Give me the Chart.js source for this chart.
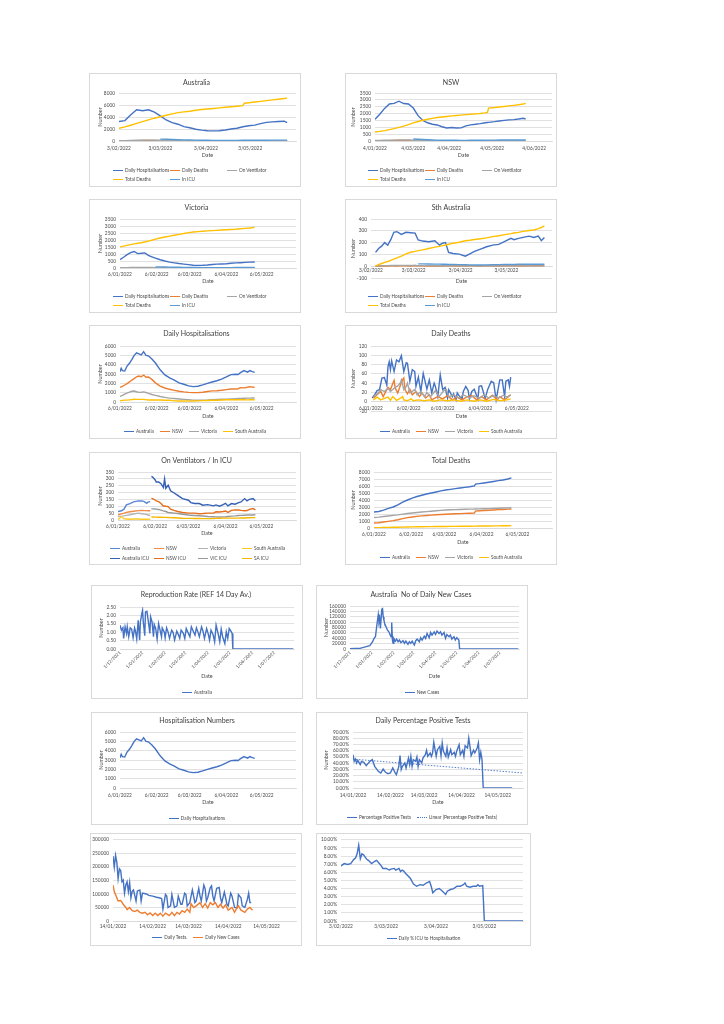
<!DOCTYPE html>
<html>
<head>
<meta charset="utf-8">
<script src="https://cdn.jsdelivr.net/npm/chart.js@4.4.1/dist/chart.umd.min.js"></script>
<style>
  body{margin:0;background:#fff;width:724px;height:1024px;position:relative;overflow:hidden;font-family:Lato,'Liberation Sans',sans-serif;}
  .panel{position:absolute;background:#fff;box-shadow:inset 0 0 0 1px #d9d9d9;}
  .panel canvas{position:absolute;left:0;top:0;}
  .legend{position:absolute;font-size:4.7px;color:#4a4a4a;white-space:nowrap;}
  .legend.flex{left:0;right:0;display:flex;justify-content:center;gap:6px;}
  .legend.grid{display:grid;}
  .sw{display:inline-block;width:10px;height:0;border-top:1.4px solid;vertical-align:middle;margin-right:2px;}
</style>
</head>
<body>
<script>
'use strict';

// x values are day numbers of 2022 (1 = 1 Jan), except the two Dec-Jul charts (0 = 1 Dec 2021)

// tick labels
const febTicks = [34, 62, 93, 123];
const febLabels = ['3/02/2022', '3/03/2022', '3/04/2022', '3/05/2022'];
const nswTicks = [4, 36, 66, 102, 137];
const nswLabels = ['4/01/2022', '4/03/2022', '4/04/2022', '4/05/2022', '4/06/2022'];
const janTicks = [6, 37, 65, 96, 126];
const janLabels = ['6/01/2022', '6/02/2022', '6/03/2022', '6/04/2022', '6/05/2022'];
const monthTicks = [0, 31, 62, 90, 121, 151, 182, 212];
const monthLabels = ['1/12/2021', '1/01/2022', '1/02/2022', '1/03/2022', '1/04/2022', '1/05/2022', '1/06/2022', '1/07/2022'];
const midTicks = [14, 45, 73, 104, 134];
const midLabels = ['14/01/2022', '14/02/2022', '14/03/2022', '14/04/2022', '14/05/2022'];

// Australia
const ausDays = [34,38,42,46,50,54,58,62,66,70,74,78,82,86,90,94,98,102,106,110,114,118,119,122,126,130,134,138,142,146,148];
const ausHosp = [3240,3400,4360,5200,5050,5200,4800,4190,3500,3070,2800,2400,2200,1950,1820,1720,1680,1700,1830,2010,2120,2380,2420,2550,2650,2900,3100,3190,3250,3300,3070];
const ausDeaths = [30,40,50,70,80,90,85,60,55,45,35,30,25,20,20,15,20,25,25,30,30,35,40,35,40,45,40,45,50,45,50];
const ausVent = [62,70,95,120,132,139,134,125,110,95,80,70,60,55,50,45,42,40,38,36,35,35,35,34,33,32,32,31,30,30,30];
const ausTotal = [2120,2350,2630,2930,3240,3520,3800,4050,4300,4530,4720,4850,4960,5120,5250,5340,5420,5520,5630,5710,5800,5900,6300,6380,6500,6600,6720,6850,6960,7090,7150];
const ausIcu = [null,null,null,null,null,null,null,318,290,260,220,190,160,140,125,115,110,105,100,105,110,115,115,120,125,130,135,140,145,150,141];

// NSW
const nswDays = [4,8,12,16,20,24,28,32,36,40,44,48,52,56,60,64,68,72,76,80,84,88,92,96,98,99,104,108,112,116,120,124,128,130];
const nswHosp = [1590,1950,2380,2700,2740,2900,2730,2700,2400,1850,1500,1330,1220,1170,1040,950,980,950,960,1100,1180,1220,1270,1330,1350,1360,1410,1460,1500,1540,1560,1600,1660,1590];
const nswDeaths = [8,15,20,30,35,40,45,35,25,20,15,15,12,12,10,10,8,8,8,8,10,10,10,10,10,10,10,10,10,10,10,12,12,12];
const nswVent = [38,45,52,60,64,68,69,68,60,50,42,35,30,28,25,22,20,20,20,20,20,20,22,22,22,22,22,22,22,22,22,22,22,22];
const nswTotal = [660,700,760,830,900,990,1090,1200,1320,1420,1510,1590,1650,1710,1750,1790,1830,1860,1890,1920,1950,1980,2010,2050,2080,2400,2440,2480,2520,2560,2600,2640,2700,2740];
const nswIcu = [null,null,null,null,null,null,null,null,150,130,110,90,75,65,57,52,50,50,48,48,50,55,60,60,62,62,65,70,70,72,74,74,80,74];

// Victoria
const vicDays = [6,9,12,15,18,21,24,27,30,33,36,40,44,48,52,56,60,64,68,72,76,80,84,88,92,96,100,104,108,112,116,120];
const vicHosp = [600,770,950,1100,1180,1030,1050,1080,900,800,700,590,500,420,370,320,280,240,200,190,195,215,250,275,290,305,340,365,380,400,420,430];
const vicDeaths = [10,15,20,25,20,25,30,25,20,18,15,15,12,10,10,8,8,8,8,8,8,8,8,10,10,10,10,10,10,10,10,12];
const vicVent = [25,27,30,35,40,45,48,45,40,35,30,25,22,20,18,15,14,13,12,12,12,12,12,12,12,12,12,12,12,12,12,12];
const vicTotal = [1510,1560,1620,1670,1720,1770,1800,1860,1920,1980,2060,2140,2210,2280,2340,2400,2460,2530,2570,2600,2630,2650,2670,2690,2710,2730,2750,2770,2800,2830,2860,2900];
const vicIcu = [null,null,null,null,null,null,null,null,null,null,82,78,70,60,55,50,43,38,34,31,28,26,24,22,24,26,30,33,34,36,37,38];

// South Australia
const saDays = [37,39,41,43,45,47,49,51,54,57,60,63,65,68,72,76,79,81,83,85,88,92,96,99,102,106,110,114,118,122,126,128,131,134,138,141,144,146,148];
const saHosp = [117,150,170,200,178,225,287,293,270,287,284,280,222,213,207,215,178,195,200,117,108,102,85,105,125,145,165,179,185,210,236,225,236,244,255,244,255,216,244];
const saDeaths = [0,2,1,3,2,4,3,2,5,3,2,6,3,4,2,3,1,2,3,5,2,3,2,4,3,2,5,3,2,4,3,5,2,4,3,5,4,3,6];
const saVent = [3,4,4,5,5,6,6,7,7,7,6,6,5,5,5,4,4,4,4,4,3,3,3,3,3,3,3,3,3,3,3,3,3,3,3,3,3,3,3];
const saTotal = [3,13,23,32,40,50,60,70,86,104,118,126,132,138,150,162,168,174,180,186,195,203,216,220,226,233,240,251,258,268,276,281,287,295,302,307,319,328,341];
const saIcu = [null,null,null,null,null,null,null,null,null,null,null,null,20,20,19,18,18,17,16,15,14,13,12,11,10,10,11,12,13,14,14,15,16,16,17,16,17,18,17];

// Daily hospitalisations by state
const hospDays = [6,7,8,10,12,14,16,18,20,22,24,26,28,30,33,36,40,44,48,52,56,60,64,68,72,76,80,84,88,92,96,100,104,106,108,111,114,116,118,120];
const hospAus = [3250,3610,3360,3320,3850,4150,4550,5000,5260,5150,5040,5390,5000,4950,4600,4180,3450,2900,2580,2350,2050,1900,1730,1650,1690,1830,2000,2140,2280,2460,2680,2930,2980,2950,3140,3360,3200,3360,3250,3180];
const hospNsw = [1570,1620,1680,1820,1970,2150,2350,2500,2700,2780,2710,2890,2660,2680,2420,2050,1700,1500,1360,1250,1150,1080,1030,1000,1000,1050,1130,1190,1210,1260,1330,1390,1390,1420,1540,1510,1580,1640,1600,1570];
const hospVic = [600,650,700,850,950,1050,1150,1180,1100,1030,1050,1080,1020,920,800,710,590,500,420,370,320,280,240,200,190,195,215,250,275,290,305,340,360,370,380,395,410,420,425,430];
const hospSa = [120,150,170,200,200,230,260,290,280,285,284,280,260,222,213,207,215,190,200,117,108,100,90,105,125,145,165,180,185,210,236,236,244,255,244,255,230,244,240,245];

// Daily deaths by state
const ddAusDays = [7,9,11,13,15,17,19,20,21,22,23,25,27,29,31,33,35,36,38,40,42,43,45,47,49,52,54,56,58,59,61,63,65,67,69,70,73,74,76,77,79,81,82,84,86,87,89,91,94,95,97,100,102,105,107,109,112,114,116,117,119,120,121];
const ddAus = [8,15,24,26,51,52,36,76,86,69,88,65,90,86,99,65,84,83,44,69,65,33,53,22,61,27,47,19,40,33,11,58,26,31,8,26,11,17,4,19,11,7,22,33,24,6,22,27,6,33,34,7,26,44,41,4,47,47,11,44,47,33,53];
const ddNswDays = [8,11,14,16,20,22,24,25,26,28,30,32,33,34,36,38,40,43,46,48,51,54,56,61,65,69,73,77,81,85,89,93,97,101,106,110,112,116,121];
const ddNsw = [8,15,22,11,31,26,40,46,29,19,34,47,51,26,17,27,15,22,11,19,8,15,4,11,6,13,4,10,4,11,13,4,11,4,14,4,11,4,15];
const ddVicDays = [8,12,14,17,20,22,25,28,30,31,33,35,36,38,42,44,47,50,52,55,59,62,66,68,70,74,78,82,87,91,95,99,103,107,111,115,118,121];
const ddVic = [11,19,26,22,29,22,29,34,40,47,26,33,40,19,26,15,22,11,20,11,24,11,24,27,11,15,8,15,8,13,7,15,8,13,8,14,10,15];
const ddSaDays = [8,11,14,17,20,22,24,27,30,32,33,36,39,41,45,50,54,58,63,69,74,80,85,91,96,101,107,112,118,121];
const ddSa = [4,10,4,7,10,3,11,3,7,11,4,2,6,2,4,2,4,1,4,2,4,1,4,1,4,1,5,2,4,6];

// On ventilators (Jan) / in ICU (Feb on)
const ventDays = [6,9,11,13,16,19,23,26,28,30,31,33];
const ventAus = [62,67,79,110,120,132,139,139,134,122,130,134];
const ventNsw = [38,45,50,56,60,64,68,69,68,68,67,67];
const ventVic = [26,28,30,34,38,44,50,46,43,40,36,33];
const ventSa = [3,25,8,7,6,7,7,6,6,6,6,6];
const icuDays = [34,35,37,38,40,42,44,45,46,48,50,53,56,60,65,67,70,74,77,81,86,88,91,94,96,98,101,104,107,109,112,114,116,119,121];
const icuAus = [318,313,294,277,277,265,237,299,230,254,213,197,179,156,144,127,120,120,108,112,103,110,101,112,122,103,120,115,127,132,156,139,151,156,141];
const icuNsw = [158,155,146,140,134,120,100,103,100,98,79,70,62,55,50,50,50,46,47,50,50,60,58,62,66,55,70,74,73,70,68,69,78,84,74];
const icuVic = [82,81,80,79,77,72,66,64,62,55,53,50,47,42,36,35,33,31,29,26,24,23,22,23,24,26,28,30,33,34,35,36,36,37,38];
const icuSa = [22,22,21,21,20,20,19,19,19,18,17,16,15,13,12,12,11,11,10,10,11,12,13,14,14,14,14,14,14,15,15,16,16,17,17];

// Total deaths by state
const totDays = [6,10,14,18,22,26,30,34,38,42,46,50,54,58,62,66,70,74,78,82,86,90,91,94,98,102,106,110,114,118,121];
const totAus = [2290,2360,2560,2800,3000,3310,3680,4000,4280,4500,4680,4860,5000,5150,5300,5430,5520,5620,5710,5800,5890,6020,6280,6340,6430,6530,6640,6760,6860,7000,7150];
const totNsw = [710,760,850,950,1050,1180,1330,1480,1580,1660,1730,1790,1840,1890,1930,1970,2000,2030,2060,2090,2110,2140,2420,2460,2500,2540,2580,2620,2650,2690,2720];
const totVic = [1510,1560,1640,1720,1800,1880,1980,2080,2150,2220,2280,2340,2400,2460,2520,2570,2600,2630,2650,2670,2690,2710,2720,2730,2750,2770,2800,2830,2860,2880,2900];
const totSa = [40,50,65,85,100,115,130,145,160,170,180,190,200,208,215,222,230,238,245,252,260,268,270,276,284,292,300,310,318,330,340];

// Reproduction rate (0 = 1 Dec 2021)
const rrDays = [0,2,4,5,7,9,10,12,14,16,18,20,21,23,25,27,28,30,31,32,34,35,37,39,41,42,44,46,47,49,51,53,55,57,58,61,62,64,66,68,71,73,75,78,80,82,84,87,89,91,93,96,98,100,103,105,107,109,112,114,116,119,121,123,125,128,130,132,135,137,139,141,144,146,148,150,153,154,155,238];
const rrVals = [1.42,1.12,1.26,0.63,1.32,0.93,1.32,0.73,1.26,1.18,0.67,1.26,1.12,0.59,1.71,0.53,1.61,2.10,2.30,1.61,0.79,2.20,2.24,1.61,0.93,1.91,1.61,0.73,1.46,1.22,0.59,1.52,1.12,0.73,1.26,0.98,0.67,1.26,1.02,0.63,1.12,0.98,0.53,1.06,0.87,0.63,1.12,0.93,0.63,1.22,1.02,0.73,1.32,1.12,0.83,1.26,1.02,0.73,1.32,1.06,0.63,1.22,0.93,0.53,1.12,0.83,0.43,1.42,0.87,0.43,1.18,0.73,0.33,1.02,0.63,1.22,1.02,0.93,0,0];

// Australia daily new cases (0 = 1 Dec 2021)
const ncDays = [0,7,14,23,28,32,34,36,38,40,41,42,43,45,46,47,48,49,51,53,55,57,58,59,60,61,62,64,66,68,70,72,75,77,79,82,84,86,88,91,93,95,98,100,102,105,107,109,112,114,116,119,121,123,126,128,130,133,135,137,140,142,144,147,149,151,154,155,238];
const ncVals = [1500,2000,2500,8600,12300,27000,39400,45500,88600,128000,101000,113000,76300,148000,150000,119000,107000,94800,82500,70000,64000,51700,45500,98500,33200,20900,39400,29500,36900,27000,33200,23400,30800,20900,29500,17200,27000,20900,29500,14800,30800,36900,27000,41900,33200,48000,39400,57900,41900,61600,51700,64000,54100,66500,57900,64000,51700,61600,39400,54100,45500,51700,36900,45500,33200,41900,33200,0,0];

// Daily percentage positive tests (%)
const ppDays = [14,15,16,17,18,20,21,23,25,28,30,32,35,37,39,41,43,45,47,49,50,52,53,54,55,57,58,60,61,62,63,64,66,67,68,69,71,72,74,75,76,78,79,80,81,83,84,86,87,88,89,91,92,93,95,96,98,99,100,102,103,105,106,107,109,110,111,112,114,115,117,118,119,120,121,122,146];
const ppVals = [53.6,42.9,46.6,40.2,44.5,37.5,42.9,41.3,35.9,42.9,45.5,34.8,26.8,24.1,30.5,25.2,23.0,24.1,32.2,24.1,21.4,34.8,52.0,29.5,34.8,40.2,32.2,48.2,37.5,50.9,34.8,45.5,42.9,49.8,34.8,45.5,40.2,48.2,53.6,60.6,50.9,56.3,50.9,56.3,73.4,50.9,61.6,67.0,52.0,72.4,59.0,50.9,64.3,49.8,61.6,53.6,57.4,50.9,59.0,69.7,53.6,60.6,50.9,68.0,64.3,80.4,67.0,52.0,60.6,56.3,64.3,72.4,45.5,57.4,45.5,0,0];
const ppTrendDays = [14, 155];
const ppTrendVals = [46.4, 24.1];

// Daily tests and daily new cases
const testDays = [14,15,16,17,18,19,20,21,22,23,24,25,26,27,28,29,30,32,33,34,35,36,37,40,42,45,48,50,52,53,55,56,57,59,60,61,62,64,65,67,68,70,71,72,74,76,77,78,79,81,82,83,85,86,87,88,90,91,92,93,95,97,98,99,101,102,103,104,106,107,109,111,112,114,115,117,119,120,121,122];
const testVals = [240000,199000,243000,217000,157000,193000,187000,145000,151000,103000,133000,145000,109000,142000,86000,110000,115000,74000,110000,113000,114000,74000,103000,100000,95000,92000,88000,86000,83000,44000,98000,92000,50000,56000,98000,74000,50000,56000,92000,62000,62000,103000,98000,56000,68000,115000,92000,68000,74000,121000,92000,74000,133000,119000,74000,86000,124000,130000,92000,74000,121000,124000,86000,68000,107000,86000,62000,56000,103000,92000,50000,48000,98000,86000,56000,50000,80000,103000,68000,68000];
const caseDays = [14,15,17,18,20,22,24,25,27,29,31,33,35,37,39,41,43,45,47,49,51,53,55,58,60,62,64,66,68,70,72,74,75,77,79,82,84,86,88,90,92,94,96,98,100,102,104,107,109,111,112,114,117,119,121,123];
const caseVals = [133000,109000,86000,74000,76000,62000,50000,42000,50000,38000,35000,40000,32000,29000,32000,23000,30000,20000,29000,20000,29000,18000,29000,20000,32000,20000,32000,26000,38000,32000,44000,32000,64000,50000,56000,68000,50000,64000,48000,68000,60000,68000,50000,62000,48000,60000,40000,50000,32000,50000,56000,40000,32000,44000,50000,40000];

// Daily % ICU to hospitalisation
const icuPctDays = [34,36,38,40,42,43,44,45,46,47,48,50,51,53,55,56,57,59,60,62,64,65,67,68,70,71,72,73,74,77,79,81,83,85,87,89,90,91,93,95,97,99,100,102,104,106,108,110,111,112,114,116,118,119,120,122,123,147];
const icuPctVals = [6.8,7.08,6.96,7.08,7.6,7.76,8.28,9.36,7.68,8.28,8.16,7.6,7.48,7.08,7.36,7.48,7.28,6.8,6.48,6.48,6.28,6.4,6.48,6.28,6.48,6.08,6.28,6.16,5.88,5.28,4.56,4.28,4.48,4.4,4.68,4.88,4.28,3.48,3.88,4.0,3.68,3.28,3.68,3.88,4.0,4.28,4.28,4.48,4.68,4.28,4.16,4.28,4.28,4.48,4.28,4.36,0,0];

const BLUE = '#4472C4', ORANGE = '#ED7D31', GREY = '#A5A5A5', YELLOW = '#FFC000', LBLUE = '#5B9BD5';
const GRID = '#d9d9d9', TXT = '#4a4a4a';

Chart.defaults.font.family = "Lato, 'Liberation Sans', sans-serif";
Chart.defaults.color = TXT;
Chart.defaults.animation = false;

function series(label, days, vals, color, extra){
  return Object.assign({
    label: label,
    data: days.map((d, i) => ({x: d, y: vals[i]})),
    borderColor: color,
    backgroundColor: color,
    borderWidth: 1.4,
    pointRadius: 0,
    tension: 0
  }, extra || {});
}

function stateSeries(days, hosp, deaths, vent, total, icu){
  return [
    series('Daily Hospitalisations', days, hosp, BLUE),
    series('Daily Deaths', days, deaths, ORANGE),
    series('On Ventilator', days, vent, GREY),
    series('Total Deaths', days, total, YELLOW),
    series('In ICU', days, icu, LBLUE)
  ];
}

function addLegend(el, chart, o){
  const lg = o.legend;
  const rowH = lg.rowH || 9;
  const d = document.createElement('div');
  d.className = 'legend ' + (lg.cols ? 'grid' : 'flex');
  d.style.top = (lg.y - o.box[1] - rowH / 2) + 'px';
  d.style.lineHeight = rowH + 'px';
  if (lg.cols){
    d.style.left = (lg.x - o.box[0]) + 'px';
    d.style.gridTemplateColumns = 'repeat(' + lg.cols + ',' + lg.colW + 'px)';
    d.style.gridAutoRows = rowH + 'px';
  }
  chart.data.datasets.forEach((ds) => {
    const it = document.createElement('span');
    const sw = document.createElement('span');
    sw.className = 'sw';
    sw.style.borderTopColor = ds.borderColor;
    if (ds.borderDash) sw.style.borderTopStyle = 'dotted';
    it.appendChild(sw);
    it.appendChild(document.createTextNode(ds.label));
    d.appendChild(it);
  });
  el.appendChild(d);
}

function makeChart(o){
  const [bx, by, bw, bh] = o.box;
  const l = o.plot[0] - bx, t = o.plot[1] - by, r = o.plot[2] - bx, b = o.plot[3] - by;

  const el = document.createElement('div');
  el.className = 'panel';
  el.style.left = bx + 'px';
  el.style.top = by + 'px';
  el.style.width = bw + 'px';
  el.style.height = bh + 'px';
  const cv = document.createElement('canvas');
  cv.width = bw;
  cv.height = bh;
  el.appendChild(cv);
  document.body.appendChild(el);

  const titleLH = 7 * 1.2;
  const padL = o.numberX ? o.numberX - bx - 3 : 2;
  const xH = o.dateY ? o.dateY - o.plot[3] + 3 : 12;
  const tc = o.title ? o.titleY - by : 0;

  o.datasets.forEach((ds, i) => { ds.order = -i; });

  const scales = {
    x: {
      type: 'linear',
      min: o.xMin,
      max: o.xMax,
      position: o.atZero ? {y: 0} : 'bottom',
      afterBuildTicks: (s) => { s.ticks = o.xTicks.map((v) => ({value: v})); },
      afterFit: (s) => { if (!o.atZero) s.height = xH; },
      ticks: {
        autoSkip: false,
        maxRotation: o.rot || 0,
        minRotation: o.rot || 0,
        padding: o.xPad,
        font: {size: o.rot ? 4.5 : 4.8},
        callback: (v, i) => o.xLabels[i]
      },
      grid: {display: false, drawTicks: false},
      border: {display: true, color: GRID, width: 0.8},
      title: {display: !!o.dateY && !o.atZero, text: 'Date', font: {size: 5.4}, padding: 0}
    },
    y: {
      min: o.yMin,
      max: o.yMax,
      afterFit: (s) => { s.width = l - padL; },
      ticks: {
        stepSize: o.yStep,
        autoSkip: false,
        padding: 4,
        font: {size: 4.8},
        callback: o.yFmt || ((v) => v)
      },
      grid: {color: GRID, lineWidth: 0.8, drawTicks: false},
      border: {display: false},
      title: {display: !!o.numberX, text: 'Number', font: {size: 5.4}, padding: 0}
    }
  };
  if (o.atZero){
    scales.x2 = {
      type: 'linear', position: 'bottom', min: 0, max: 1,
      afterFit: (s) => { s.height = xH; },
      ticks: {display: false},
      grid: {display: false, drawTicks: false},
      border: {display: false},
      title: {display: true, text: 'Date', font: {size: 5.4}, padding: 0}
    };
  }

  const chart = new Chart(cv, {
    type: 'line',
    data: {datasets: o.datasets},
    options: {
      responsive: false,
      animation: false,
      events: [],
      layout: {padding: {left: padL, right: bw - r, top: o.title ? 0 : t, bottom: bh - b - xH}},
      plugins: {
        legend: {display: false},
        tooltip: {enabled: false},
        title: o.title ? {
          display: true,
          text: o.title,
          color: '#404040',
          font: {size: 7, weight: 'normal'},
          padding: {top: tc - titleLH / 2, bottom: t - tc - titleLH / 2}
        } : {display: false}
      },
      scales: scales
    }
  });
  addLegend(el, chart, o);
  return chart;
}

const pct = (v) => v.toFixed(2) + '%';

const charts = [
  {box: [89, 73, 212, 114], plot: [119, 93, 296, 141], title: 'Australia', titleY: 83, numberX: 100, dateY: 156, xPad: 4.2,
   xMin: 34, xMax: 154, xTicks: febTicks, xLabels: febLabels, yMin: 0, yMax: 8000, yStep: 2000,
   datasets: stateSeries(ausDays, ausHosp, ausDeaths, ausVent, ausTotal, ausIcu),
   legend: {x: 113, y: 170, cols: 3, colW: 57}},
  {box: [345, 73, 212, 114], plot: [375, 93, 552, 141], title: 'NSW', titleY: 83, numberX: 353, dateY: 156, xPad: 4.2,
   xMin: 4, xMax: 152, xTicks: nswTicks, xLabels: nswLabels, yMin: 0, yMax: 3500, yStep: 500,
   datasets: stateSeries(nswDays, nswHosp, nswDeaths, nswVent, nswTotal, nswIcu),
   legend: {x: 368, y: 170, cols: 3, colW: 57}},
  {box: [89, 199, 212, 114], plot: [120, 219, 296, 268], title: 'Victoria', titleY: 208, numberX: 100, dateY: 282, xPad: 3.2,
   xMin: 6, xMax: 155, xTicks: janTicks, xLabels: janLabels, yMin: 0, yMax: 3500, yStep: 500,
   datasets: stateSeries(vicDays, vicHosp, vicDeaths, vicVent, vicTotal, vicIcu),
   legend: {x: 113, y: 296, cols: 3, colW: 57}},
  {box: [345, 199, 212, 114], plot: [371, 219, 552, 278], title: 'Sth Australia', titleY: 208, numberX: 353, dateY: 282, xPad: 1.2, atZero: true,
   xMin: 34, xMax: 153, xTicks: febTicks, xLabels: febLabels, yMin: -100, yMax: 400, yStep: 100,
   datasets: stateSeries(saDays, saHosp, saDeaths, saVent, saTotal, saIcu),
   legend: {x: 368, y: 296, cols: 3, colW: 57}},
  {box: [89, 325, 212, 114], plot: [120, 346, 296, 402], title: 'Daily Hospitalisations', titleY: 334, numberX: 100, dateY: 417, xPad: 3.2,
   xMin: 6, xMax: 155, xTicks: janTicks, xLabels: janLabels, yMin: 0, yMax: 6000, yStep: 1000,
   datasets: [
     series('Australia', hospDays, hospAus, BLUE),
     series('NSW', hospDays, hospNsw, ORANGE),
     series('Victoria', hospDays, hospVic, GREY),
     series('South Australia', hospDays, hospSa, YELLOW)
   ],
   legend: {y: 431}},
  {box: [345, 325, 212, 114], plot: [371, 346, 552, 411], title: 'Daily Deaths', titleY: 334, numberX: 353, dateY: 417, xPad: 4.2, atZero: true,
   xMin: 6, xMax: 155, xTicks: janTicks, xLabels: janLabels, yMin: -20, yMax: 120, yStep: 20,
   datasets: [
     series('Australia', ddAusDays, ddAus, BLUE),
     series('NSW', ddNswDays, ddNsw, ORANGE),
     series('Victoria', ddVicDays, ddVic, GREY),
     series('South Australia', ddSaDays, ddSa, YELLOW)
   ],
   legend: {y: 431}},
  {box: [89, 452, 212, 113], plot: [118, 472, 296, 520], title: 'On Ventilators / In ICU', titleY: 461, numberX: 100, dateY: 534, xPad: 3.2,
   xMin: 6, xMax: 155, xTicks: janTicks, xLabels: janLabels, yMin: 0, yMax: 350, yStep: 50,
   datasets: [
     series('Australia', ventDays, ventAus, '#5B86D6'),
     series('NSW', ventDays, ventNsw, '#F08B48'),
     series('Victoria', ventDays, ventVic, '#B4B4B4'),
     series('South Australia', ventDays, ventSa, '#FFC824'),
     series('Australia ICU', icuDays, icuAus, '#3461B5'),
     series('NSW ICU', icuDays, icuNsw, '#E56E1E'),
     series('VIC ICU', icuDays, icuVic, '#999999'),
     series('SA ICU', icuDays, icuSa, '#F5B800')
   ],
   legend: {x: 110, y: 548, cols: 4, colW: 44, rowH: 10}},
  {box: [345, 452, 212, 113], plot: [374, 472, 552, 528], title: 'Total Deaths', titleY: 461, numberX: 353, dateY: 543, xPad: 3.2,
   xMin: 6, xMax: 155, xTicks: janTicks, xLabels: janLabels, yMin: 0, yMax: 8000, yStep: 1000,
   datasets: [
     series('Australia', totDays, totAus, BLUE),
     series('NSW', totDays, totNsw, ORANGE),
     series('Victoria', totDays, totVic, GREY),
     series('South Australia', totDays, totSa, YELLOW)
   ],
   legend: {y: 557}},
  {box: [91, 585, 212, 114], plot: [120, 607, 294, 649], title: 'Reproduction Rate (REF 14 Day Av.)', titleY: 595, numberX: 101, dateY: 677, xPad: 1, rot: 45,
   xMin: 0, xMax: 239, xTicks: monthTicks, xLabels: monthLabels, yMin: 0, yMax: 2.5, yStep: 0.5, yFmt: (v) => v.toFixed(2),
   datasets: [series('Australia', rrDays, rrVals, BLUE)],
   legend: {y: 692}},
  {box: [316, 585, 212, 114], plot: [350, 606, 519, 649], title: 'Australia  No of Daily New Cases', titleY: 595, numberX: 326, dateY: 677, xPad: 1, rot: 45,
   xMin: 0, xMax: 239, xTicks: monthTicks, xLabels: monthLabels, yMin: 0, yMax: 160000, yStep: 20000,
   datasets: [series('New Cases', ncDays, ncVals, BLUE)],
   legend: {y: 692}},
  {box: [91, 712, 212, 113], plot: [120, 732, 296, 788], title: 'Hospitalisation Numbers', titleY: 721, numberX: 101, dateY: 803, xPad: 4.2,
   xMin: 6, xMax: 155, xTicks: janTicks, xLabels: janLabels, yMin: 0, yMax: 6000, yStep: 1000,
   datasets: [series('Daily Hospitalisations', hospDays, hospAus, BLUE)],
   legend: {y: 818}},
  {box: [316, 712, 212, 113], plot: [353, 732, 523, 788], title: 'Daily Percentage Positive Tests', titleY: 721, numberX: 326, dateY: 803, xPad: 4.2,
   xMin: 14, xMax: 155, xTicks: midTicks, xLabels: midLabels, yMin: 0, yMax: 90, yStep: 10, yFmt: pct,
   datasets: [
     series('Percentage Positive Tests', ppDays, ppVals, BLUE),
     series('Linear (Percentage Positive Tests)', ppTrendDays, ppTrendVals, BLUE, {borderWidth: 0.9, borderDash: [1.5, 1.5]})
   ],
   legend: {y: 817}},
  {box: [90, 833, 212, 113], plot: [113, 837, 296, 921], xPad: 2.2,
   xMin: 14, xMax: 157, xTicks: midTicks, xLabels: midLabels, yMin: 0, yMax: 300000, yStep: 50000,
   datasets: [
     series('Daily Tests.', testDays, testVals, BLUE),
     series('Daily New Cases', caseDays, caseVals, ORANGE)
   ],
   legend: {y: 937}},
  {box: [316, 833, 215, 113], plot: [341, 837, 523, 921], xPad: 3,
   xMin: 34, xMax: 147, xTicks: febTicks, xLabels: febLabels, yMin: 0, yMax: 10, yStep: 1, yFmt: pct,
   datasets: [series('Daily % ICU to Hospitalisation', icuPctDays, icuPctVals, BLUE)],
   legend: {y: 938}}
];

charts.forEach(makeChart);
</script>
</body>
</html>
